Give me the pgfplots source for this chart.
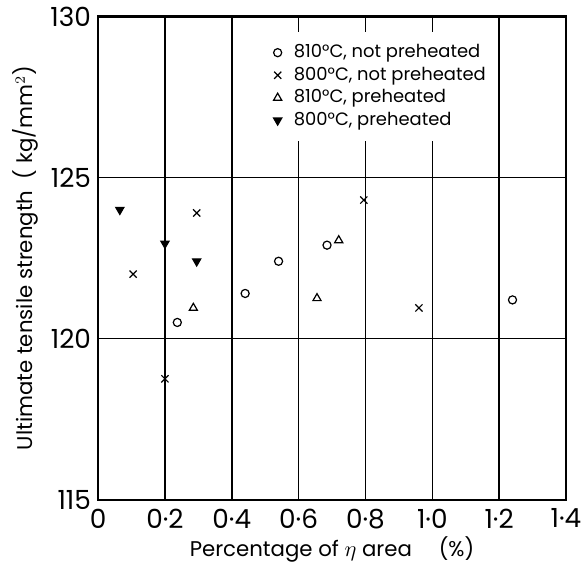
\documentclass[border=0pt]{standalone}
\usepackage{fontspec}
\setmainfont{Poppins}
\usepackage{pgfplots}
\pgfplotsset{compat=1.18}
\begin{document}
\begin{tikzpicture}
\begin{axis}[
  scale only axis, width=231pt, height=238.5pt,
  xmin=0, xmax=1.4, ymin=115, ymax=130,
  xtick={0,0.2,0.4,0.6,0.8,1.0,1.2,1.4},
  xticklabels={0,0·2,0·4,0·6,0·8,1·0,1·2,1·4},
  ytick={115,120,125,130},
  grid=major, grid style={black, line width=0.75pt},
  axis line style={line width=1pt},
  major tick length=0pt,
  tick label style={font=\fontsize{13}{15}\selectfont},
  xticklabel style={yshift=-1pt},
  /pgf/number format/assume math mode=true,
  xlabel={Percentage of $\eta$ area\quad\ (\%)},
  ylabel={Ultimate tensile strength\ \ ( kg/mm$^2$)},
  label style={font=\fontsize{10.5}{12}\selectfont},
  xlabel style={yshift=3pt},
  ylabel style={yshift=-1pt},
  legend style={at={(0.352,0.968)}, anchor=north west, draw=none, fill=white,
    font=\fontsize{8.85}{10}\selectfont, row sep=-0.9pt, inner sep=4pt},
  legend cell align=left,
  legend image code/.code={\draw[#1] plot coordinates {(0.1cm,0cm)};\path (0cm,0cm) (0.3cm,0cm);},
  every axis plot/.append style={only marks, black, mark size=2pt, line width=0.6pt},
]
\addplot[mark=o] coordinates {(0.237,120.5) (0.44,121.4) (0.54,122.4) (0.685,122.9) (1.24,121.2)};
\addlegendentry{810°C, not preheated}
\addplot[mark=x, mark size=2.5pt] coordinates {(0.105,122.0) (0.2,118.75) (0.295,123.9) (0.795,124.3) (0.96,120.95)};
\addlegendentry{800°C, not preheated}
\addplot[mark=triangle, mark size=2.3pt] coordinates {(0.285,120.95) (0.655,121.25) (0.72,123.05)};
\addlegendentry{810°C, preheated}
\addplot[mark=triangle*, mark size=2.3pt, mark options={rotate=180}] coordinates {(0.065,124.0) (0.2,122.95) (0.295,122.4)};
\addlegendentry{800°C, preheated}
\end{axis}
\path (current bounding box.west) ++(-3pt,0pt);
\end{tikzpicture}
\end{document}
